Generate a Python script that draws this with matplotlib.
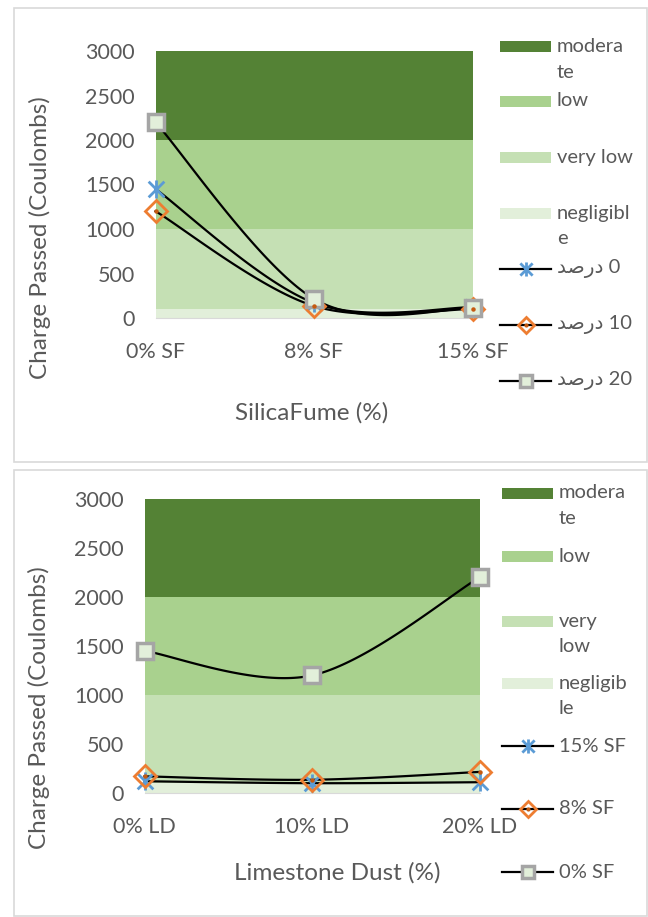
import numpy as np
import matplotlib
matplotlib.use("Agg")
import matplotlib.pyplot as plt
from matplotlib.patches import Rectangle
from matplotlib.lines import Line2D
from matplotlib.path import Path

plt.rcParams['font.family'] = ['Lato', 'DejaVu Sans']

# ---------------- data ----------------
sf_categories = ['0% SF', '8% SF', '15% SF']
ld_categories = ['0% LD', '10% LD', '20% LD']

# charge passed per silica-fume level, one array per limestone-dust level
ld0_values = [1450, 170, 120]
ld10_values = [1200, 135, 100]
ld20_values = [2200, 215, 110]

# classification bands (stacked): negligible, very low, low, moderate
band_names = ['moderate', 'low', 'very low', 'negligible']
band_negligible = [100, 100, 100]
band_very_low = [900, 900, 900]
band_low = [1000, 1000, 1000]
band_moderate = [1000, 1000, 1000]

yticks = [0, 500, 1000, 1500, 2000, 2500, 3000]

# Arabic "درصد" shaped into presentation forms (visual order) for matplotlib
dars = '\uFEAA\uFEBB\uFEAD\uFEA9'
top_series_labels = [dars + ' 0', dars + ' 10', dars + ' 20']
bottom_series_labels = ['15% SF', '8% SF', '0% SF']

band_colors = {'moderate': '#548235', 'low': '#A9D18E',
               'very low': '#C5E0B4', 'negligible': '#E2EFDA'}
TXT = '#595959'

# Excel-style "star" marker: an X plus a vertical stroke
STAR = Path([(-1, -1), (1, 1), (-1, 1), (1, -1), (0, -1.15), (0, 1.15)],
            [Path.MOVETO, Path.LINETO, Path.MOVETO, Path.LINETO, Path.MOVETO, Path.LINETO])


def smooth(ys, n=60):
    """Excel-like smoothed line (Catmull-Rom Bezier)."""
    pts = np.column_stack([np.arange(len(ys)), np.asarray(ys, float)])
    out = []
    m = len(pts)
    for i in range(m - 1):
        p0 = pts[i - 1] if i > 0 else pts[i]
        p1, p2 = pts[i], pts[i + 1]
        p3 = pts[i + 2] if i + 2 < m else pts[i + 1]
        c1 = p1 + (p2 - p0) / 6.0
        c2 = p2 - (p3 - p1) / 6.0
        t = np.linspace(0, 1, n)[:, None]
        seg = ((1 - t) ** 3) * p1 + 3 * ((1 - t) ** 2) * t * c1 + 3 * (1 - t) * t ** 2 * c2 + t ** 3 * p2
        out.append(seg if i == 0 else seg[1:])
    seg = np.vstack(out)
    return seg[:, 0], seg[:, 1]


def marker_style(kind, scale=1.0):
    if kind == 'star':
        return dict(marker=STAR, ms=13 * scale, mec='#5B9BD5', mfc='#5B9BD5', mew=2.0)
    if kind == 'diamond':
        return dict(marker='D', ms=11 * scale, mec='#ED7D31', mfc='none', mew=2.0)
    return dict(marker='s', ms=11.5 * scale, mec='#A5A5A5', mfc='#E2EFDA', mew=2.5)


def draw_series(ax, ys, kind):
    sx, sy = smooth(ys)
    ax.plot(sx, sy, color='black', lw=1.6, zorder=3, clip_on=False)
    x = np.arange(len(ys))
    ax.plot(x, ys, ls='none', zorder=4, clip_on=False, **marker_style(kind))
    if kind == 'diamond':
        ax.plot(x, ys, ls='none', marker='o', ms=2.2, color='#C55A11', zorder=5, clip_on=False)


def setup_panel(ax, cats, ylabel_xy, xlabel, xlabel_xy):
    x = np.arange(len(cats))
    ax.stackplot(x, band_negligible, band_very_low, band_low, band_moderate,
                 colors=[band_colors['negligible'], band_colors['very low'],
                         band_colors['low'], band_colors['moderate']],
                 lw=0, zorder=1)
    ax.set_xlim(0, len(cats) - 1)
    ax.set_ylim(0, 3000)
    ax.set_yticks(yticks)
    ax.set_xticks(x)
    ax.set_xticklabels(cats)
    ax.tick_params(axis='both', length=0, labelsize=15.5, colors=TXT)
    ax.tick_params(axis='y', pad=15)
    ax.tick_params(axis='x', pad=17)
    for s in ['left', 'right', 'top']:
        ax.spines[s].set_visible(False)
    ax.spines['bottom'].set_color('#D9D9D9')
    ax.spines['bottom'].set_zorder(2)
    ax.set_ylabel('Charge Passed (Coulombs)', fontsize=17.5, color=TXT)
    ax.yaxis.set_label_coords(*ylabel_xy)
    ax.yaxis.label.set_va('center')
    ax.set_xlabel(xlabel, fontsize=17.5, color=TXT)
    ax.xaxis.set_label_coords(*xlabel_xy)
    ax.xaxis.label.set_va('center')
    ax.set_facecolor('none')


W, H = 648, 917
fig = plt.figure(figsize=(W / 100, H / 100), dpi=100)


def fig_axes(x0, x1, y_top, y_bot):
    return fig.add_axes([x0 / W, 1 - y_bot / H, (x1 - x0) / W, (y_bot - y_top) / H])


# ---- panel frames ----
ov = fig.add_axes([0, 0, 1, 1])
ov.set_xlim(0, W)
ov.set_ylim(H, 0)
ov.axis('off')
ov.set_zorder(0)
ov.add_patch(Rectangle((13.5, 7.5), 633, 454, fill=False, ec='#D9D9D9', lw=1.2))
ov.add_patch(Rectangle((13.5, 469.5), 633, 446, fill=False, ec='#D9D9D9', lw=1.2))

# ---- top panel ----
ax1 = fig_axes(155.5, 472.5, 51, 318)
ax1.set_zorder(1)
setup_panel(ax1, sf_categories, (-0.365, 0.30), 'SilicaFume (%)', (0.494, -0.356))
for ys, kind in zip([ld0_values, ld10_values, ld20_values], ['star', 'diamond', 'square']):
    draw_series(ax1, ys, kind)

# ---- bottom panel ----
ax2 = fig_axes(144.5, 479.5, 499, 793)
ax2.set_zorder(1)
setup_panel(ax2, ld_categories, (-0.316, 0.29), 'Limestone Dust (%)', (0.576, -0.272))
by_ld = np.array([ld0_values, ld10_values, ld20_values])  # rows: LD, cols: SF
for col, kind in zip([2, 1, 0], ['star', 'diamond', 'square']):
    draw_series(ax2, by_ld[:, col], kind)


# ---- legends ----
ov2 = fig.add_axes([0, 0, 1, 1])
ov2.set_xlim(0, W)
ov2.set_ylim(H, 0)
ov2.axis('off')
ov2.set_zorder(5)


def legend(x0, text_x, band_entries, line_entries):
    for lines, yc in band_entries:
        name = lines[0]
        ov2.add_patch(Rectangle((x0, yc - 5.5), 51, 11, color=band_colors[name], lw=0))
        for k, t in enumerate(lines[1]):
            ov2.text(text_x, yc + k * 26, t, fontsize=14.5, color=TXT, va='center', ha='left')
    for (label, kind), yc in line_entries:
        ov2.add_line(Line2D([x0, x0 + 51], [yc, yc], color='black', lw=1.6))
        ov2.add_line(Line2D([x0 + 25.5], [yc], ls='none', **marker_style(kind, 0.78)))
        if kind == 'diamond':
            ov2.add_line(Line2D([x0 + 25.5], [yc], ls='none', marker='o', ms=2.0, color='#C55A11'))
        ov2.text(text_x, yc, label, fontsize=14.5, color=TXT, va='center', ha='left')


legend(500, 557,
       [(('moderate', ['modera', 'te']), 46), (('low', ['low']), 101),
        (('very low', ['very low']), 157), (('negligible', ['negligibl', 'e']), 213)],
       [((top_series_labels[0], 'star'), 269), ((top_series_labels[1], 'diamond'), 325),
        ((top_series_labels[2], 'square'), 381)])

legend(502, 559,
       [(('moderate', ['modera', 'te']), 493), (('low', ['low']), 556),
        (('very low', ['very', 'low']), 621), (('negligible', ['negligib', 'le']), 683)],
       [((bottom_series_labels[0], 'star'), 746), ((bottom_series_labels[1], 'diamond'), 809),
        ((bottom_series_labels[2], 'square'), 872)])

fig.savefig('out.png', dpi=100, facecolor='white')
